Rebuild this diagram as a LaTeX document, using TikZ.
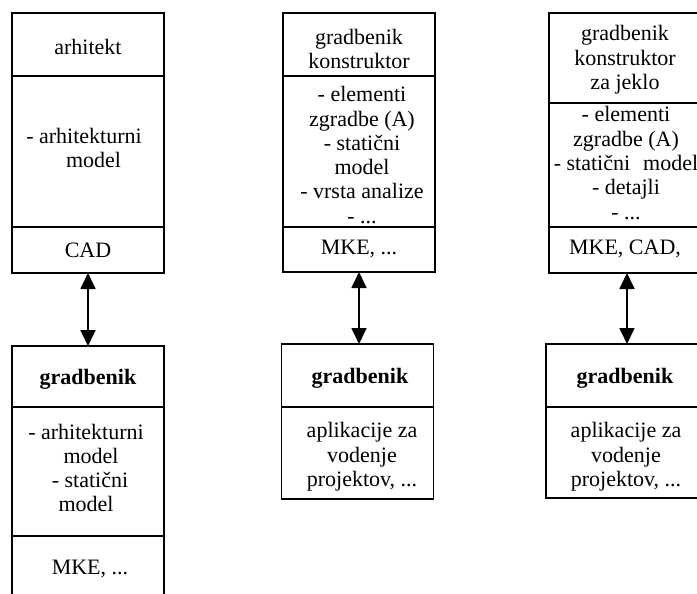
\documentclass[tikz,border=0pt]{standalone}
\usepackage{fontspec}
\setmainfont{Liberation Serif}
\usetikzlibrary{arrows.meta}
\tikzset{
  part/.style={draw=black, line width=1.4pt, rectangle, inner sep=0pt, outer sep=0pt, minimum width=152pt},
  txt/.style={align=center, inner sep=0pt, font=\fontsize{22}{24.3}\selectfont},
  arr/.style={line width=1.8pt, {Triangle[length=16pt,width=15pt]}-{Triangle[length=16pt,width=15pt]}}
}
\begin{document}
\begin{tikzpicture}[x=1pt,y=-1pt]
\useasboundingbox (0,0) rectangle (697,594);
\clip (0,0) rectangle (697,594);
% left column
\node[part, minimum height=63pt] (lt1) at (88,44.5) {};
\node[part, minimum height=151pt] (lt2) at (88,151.5) {};
\node[part, minimum height=46pt] (lt3) at (88,250) {};
\node[part, minimum height=61pt] (lb1) at (88,376.5) {};
\node[part, minimum height=129pt] (lb2) at (88,471.5) {};
\node[part, minimum height=84pt] (lb3) at (88,578) {};
% middle column
\node[part, minimum height=63pt] (mt1) at (359,44.5) {};
\node[part, minimum height=151pt] (mt2) at (359,151.5) {};
\node[part, minimum height=45pt] (mt3) at (359,249.5) {};
\node[part, minimum height=63pt] (mb1) at (357.5,375.5) {};
\node[part, minimum height=92pt] (mb2) at (357.5,453) {};
% right column
\node[part, minimum height=90pt] (rt1) at (625,58) {};
\node[part, minimum height=124pt] (rt2) at (625,165) {};
\node[part, minimum height=46pt] (rt3) at (625,250) {};
\node[part, minimum height=63pt] (rb1) at (622,375.5) {};
\node[part, minimum height=91pt] (rb2) at (622,452.5) {};
% texts
\node[txt] (tlt1) at (88,47) {arhitekt};
\node[txt] (tlt2) at (84,148) {- arhitekturni\\\hspace*{19pt}model};
\node[txt] (tlt3) at (88,250) {CAD};
\node[txt] (tlb1) at (88,379) {\bfseries gradbenik};
\node[txt] (tlb2) at (86,468) {- arhitekturni\\\hspace*{10pt}model\\\hspace*{8pt}- statični\\model};
\node[txt] (tlb3) at (90,569) {MKE, ...};
\node[txt] (tmt1) at (359,49) {gradbenik\\konstruktor};
\node[txt] (tmt2) at (362,155) {- elementi\\zgradbe (A)\\- statični\\model\\- vrsta analize\\- ...};
\node[txt] (tmt3) at (359,249) {MKE, ...};
\node[txt] (tmb1) at (360,378) {\bfseries gradbenik};
\node[txt] (tmb2) at (362,457) {aplikacije za\\vodenje\\projektov, ...};
\node[txt] (trt1) at (625,60) {gradbenik\\konstruktor\\za jeklo};
\node[txt] (trt2) at (626,163) {- elementi\\zgradbe (A)\\- statični\hspace{13pt}model\\- detajli\\- ...};
\node[txt] (trt3) at (625,249) {MKE, CAD,};
\node[txt] (trb1) at (625,378) {\bfseries gradbenik};
\node[txt] (trb2) at (626,457) {aplikacije za\\vodenje\\projektov, ...};
% connectors
\draw[arr] (lt3.south) -- (lb1.north);
\draw[arr] (mt3.south) -- (mt3.south |- mb1.north);
\draw[arr] ([xshift=2pt]rt3.south) -- ([xshift=2pt]rt3.south |- rb1.north);
\end{tikzpicture}
\end{document}
